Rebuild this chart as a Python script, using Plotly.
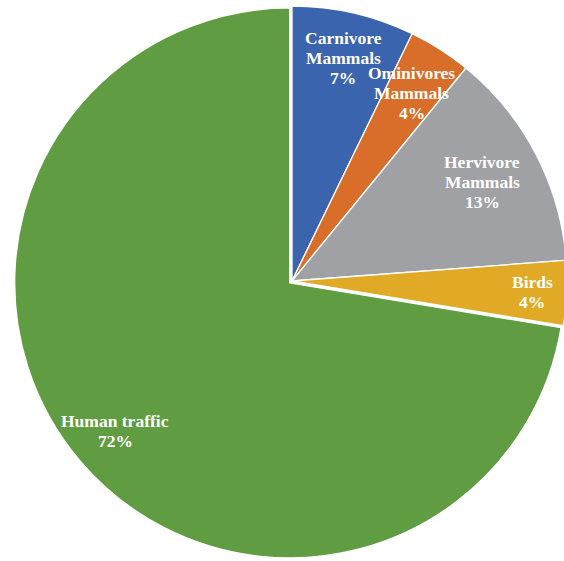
import math
import plotly.graph_objects as go

# ---- data ----
categories = ["Carnivore<br>Mammals", "Ominivores<br>Mammals", "Hervivore<br>Mammals", "Birds", "Human traffic"]
values = [7.2, 3.7, 12.9, 3.8, 72.4]
colors = ["#3A64AD", "#D86E29", "#A0A1A4", "#E0AA27", "#609C41"]
pulls = [0, 0, 0, 0, 0.011]

# ---- layout / style ----
W, H = 580, 561
cx, cy = 292, 281          # pie centre in pixels (from top-left)
r_target = 275
maxpull = max(pulls)
r0 = r_target * (1 + maxpull)
label_radius = [0.833, 0.81, 0.78, 0.874, 0.843]
font_size = 17.5
line_gap = 20

fig = go.Figure(go.Pie(
    labels=[c.replace("<br>", " ") for c in categories],
    values=values,
    sort=False,
    direction="clockwise",
    rotation=0,
    pull=pulls,
    marker=dict(colors=colors, line=dict(color="white", width=1.3)),
    textinfo="none",
    hoverinfo="skip",
    showlegend=False,
    domain=dict(x=[(cx - r0) / W, (cx + r0) / W],
                y=[(H - cy - r0) / H, (H - cy + r0) / H]),
))

total = sum(values)
cum = 0.0
annotations = []
for cat, v, rf in zip(categories, values, label_radius):
    mid = (cum + v / 2) / total
    cum += v
    theta = 2 * math.pi * mid
    px = cx + rf * r_target * math.sin(theta)
    py = cy - rf * r_target * math.cos(theta)
    pct = f"{round(v / total * 100)}%"
    lines = cat.split("<br>") + [pct]
    n = len(lines)
    for i, ln in enumerate(lines):
        annotations.append(dict(
            x=px / W, y=(H - py) / H, xref="paper", yref="paper",
            text=ln, showarrow=False, xanchor="center", yanchor="middle",
            yshift=((n - 1) / 2 - i) * line_gap,
            font=dict(family="Liberation Serif, Times New Roman, serif",
                      size=font_size, color="white", weight="bold"),
        ))

fig.update_layout(
    width=W, height=H,
    margin=dict(l=0, r=0, t=0, b=0),
    paper_bgcolor="white", plot_bgcolor="white",
    annotations=annotations,
)

fig.write_html(
    "out.html",
    config={"displayModeBar": False},
    post_script="document.body.style.margin='0';document.body.style.overflow='hidden';document.documentElement.style.overflow='hidden';",
)
